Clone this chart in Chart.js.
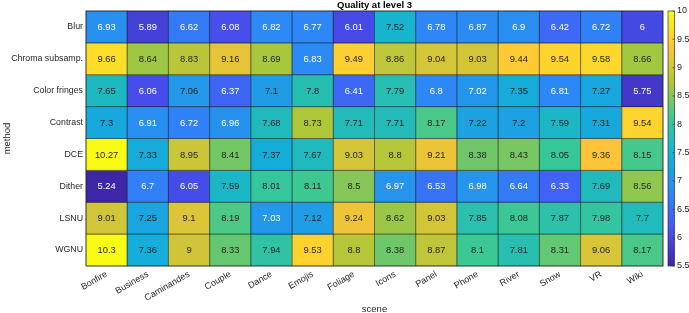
<!DOCTYPE html>
<html>
<head>
<meta charset="utf-8">
<script src="https://cdn.jsdelivr.net/npm/chart.js@4.4.1/dist/chart.umd.min.js"></script>
<style>
  body { margin: 0; background: #fff; }
  #wrap { width: 689px; height: 313px; }
</style>
</head>
<body>
<div id="wrap"><canvas id="heat"></canvas></div>
<script>
// --- data --- //
const scenes = ['Bonfire', 'Business', 'Caminandes', 'Couple', 'Dance', 'Emojis', 'Foliage',
    'Icons', 'Panel', 'Phone', 'River', 'Snow', 'VR', 'Wiki'];
const methods = ['Blur', 'Chroma subsamp.', 'Color fringes', 'Contrast', 'DCE', 'Dither', 'LSNU', 'WGNU'];

const blur = [6.93, 5.89, 6.62, 6.08, 6.82, 6.77, 6.01, 7.52, 6.78, 6.87, 6.9, 6.42, 6.72, 6];
const chroma = [9.66, 8.64, 8.83, 9.16, 8.69, 6.83, 9.49, 8.86, 9.04, 9.03, 9.44, 9.54, 9.58, 8.66];
const fringes = [7.65, 6.06, 7.06, 6.37, 7.1, 7.8, 6.41, 7.79, 6.8, 7.02, 7.35, 6.81, 7.27, 5.75];
const contrast = [7.3, 6.91, 6.72, 6.96, 7.68, 8.73, 7.71, 7.71, 8.17, 7.22, 7.2, 7.59, 7.31, 9.54];
const dce = [10.27, 7.33, 8.95, 8.41, 7.37, 7.67, 9.03, 8.8, 9.21, 8.38, 8.43, 8.05, 9.36, 8.15];
const dither = [5.24, 6.7, 6.05, 7.59, 8.01, 8.11, 8.5, 6.97, 6.53, 6.98, 6.64, 6.33, 7.69, 8.56];
const lsnu = [9.01, 7.25, 9.1, 8.19, 7.03, 7.12, 9.24, 8.62, 9.03, 7.85, 8.08, 7.87, 7.98, 7.7];
const wgnu = [10.3, 7.36, 9, 8.33, 7.94, 9.53, 8.8, 8.38, 8.87, 8.1, 7.81, 8.31, 9.06, 8.17];
const rows = [blur, chroma, fringes, contrast, dce, dither, lsnu, wgnu];

const colorMin = 5.5;
const colorMax = 10;
const colorTicks = [5.5, 6, 6.5, 7, 7.5, 8, 8.5, 9, 9.5, 10];

// parula, 8 anchor colours, linearly interpolated
const parula = [
    [0.2422, 0.1504, 0.6603], [0.2810, 0.3228, 0.9579], [0.1786, 0.5289, 0.9682],
    [0.0689, 0.6948, 0.8394], [0.2161, 0.7843, 0.5923], [0.6720, 0.7793, 0.2227],
    [0.9970, 0.7659, 0.2199], [0.9769, 0.9839, 0.0805]
];
const parulaAt = (t) => {
    t = Math.min(1, Math.max(0, t));
    const p = t * (parula.length - 1);
    const i = Math.min(parula.length - 2, Math.floor(p));
    const f = p - i;
    const c = parula[i].map((a, k) => Math.round(255 * (a + (parula[i + 1][k] - a) * f)));
    return `rgb(${c[0]},${c[1]},${c[2]})`;
};
const colorFor = (v) => parulaAt((v - colorMin) / (colorMax - colorMin));

const FONT = '"Liberation Sans", Arial, sans-serif';
const TXT = '#262626';

// scales: fixed box sizes, no extra end padding for labels
const fixBox = (w, h) => (s) => {
    if (w !== null) s.width = w;
    if (h !== null) s.height = h;
    s.paddingTop = 0; s.paddingBottom = 0; s.paddingLeft = 0; s.paddingRight = 0;
};

// --- cell labels, grid lines, frame and colour bar --- //
const heatPlugin = {
    id: 'heatExtras',
    afterDatasetsDraw(chart) {
        const ctx = chart.ctx;
        const area = chart.chartArea;
        ctx.save();
        ctx.font = `9.4px ${FONT}`;
        ctx.textAlign = 'center';
        ctx.textBaseline = 'middle';
        chart.data.datasets.forEach((ds, i) => {
            chart.getDatasetMeta(i).data.forEach((bar, j) => {
                const { x, y, base, width } = bar.getProps(['x', 'y', 'base', 'width'], true);
                const top = Math.min(y, base);
                const h = Math.abs(base - y);
                ctx.strokeStyle = 'rgba(30,30,30,0.35)';
                ctx.lineWidth = 1;
                ctx.strokeRect(x - width / 2, top, width, h);
                const v = rows[i][j];
                ctx.fillStyle = v < 7.05 ? '#ffffff' : TXT;
                ctx.fillText(String(v), x, top + h / 2 + 0.5);
            });
        });
        ctx.strokeStyle = 'rgba(38,38,38,0.7)';
        ctx.strokeRect(area.left, area.top, area.right - area.left, area.bottom - area.top);

        // colour bar
        const cb = chart.scales.cb;
        const x0 = cb.left + 5;
        const w = 6.5;
        const grad = ctx.createLinearGradient(0, cb.bottom, 0, cb.top);
        for (let s = 0; s <= 40; s++) grad.addColorStop(s / 40, parulaAt(s / 40));
        ctx.fillStyle = grad;
        ctx.fillRect(x0, cb.top, w, cb.bottom - cb.top);
        ctx.strokeStyle = 'rgba(38,38,38,0.8)';
        ctx.lineWidth = 0.8;
        ctx.strokeRect(x0, cb.top, w, cb.bottom - cb.top);
        colorTicks.forEach((t) => {
            const py = cb.getPixelForValue(t);
            ctx.beginPath();
            ctx.moveTo(x0 + w, py);
            ctx.lineTo(x0 + w - 2, py);
            ctx.stroke();
        });
        ctx.restore();
    }
};

const datasets = rows.map((vals, i) => ({
    label: methods[i],
    data: vals.map(() => [i, i + 1]),
    backgroundColor: vals.map(colorFor),
    borderWidth: 0,
    barPercentage: 1,
    categoryPercentage: 1,
    grouped: false
}));

new Chart(document.getElementById('heat'), {
    type: 'bar',
    data: { labels: scenes, datasets },
    options: {
        responsive: true,
        maintainAspectRatio: false,
        animation: false,
        layout: { padding: 0 },
        plugins: {
            legend: { display: false },
            tooltip: { enabled: false },
            title: {
                display: true,
                text: 'Quality at level 3',
                fullSize: false,
                color: '#000',
                font: { family: FONT, size: 9.5, weight: 'bold', lineHeight: 1 },
                padding: { top: 0.5, bottom: 1 }
            }
        },
        scales: {
            x: {
                grid: { display: false, drawTicks: false },
                border: { display: false },
                ticks: {
                    color: TXT, font: { family: FONT, size: 9 },
                    minRotation: 30, maxRotation: 30, padding: 3, autoSkip: false
                },
                title: {
                    display: true, text: 'scene', color: TXT,
                    font: { family: FONT, size: 9.5, lineHeight: 0.8 },
                    padding: { top: 0, bottom: 0 }
                },
                afterFit: fixBox(null, 47)
            },
            y: {
                min: 0, max: methods.length, reverse: true,
                grid: { display: false, drawTicks: false },
                border: { display: false },
                afterBuildTicks: (s) => { s.ticks = methods.map((m, i) => ({ value: i + 0.5 })); },
                ticks: {
                    color: TXT, font: { family: FONT, size: 8.8 }, padding: 3, autoSkip: false,
                    callback: (v, i) => methods[i]
                },
                title: {
                    display: true, text: 'method', color: TXT,
                    font: { family: FONT, size: 9.5, lineHeight: 1 },
                    padding: { top: 3, bottom: 0 }
                },
                afterFit: fixBox(86, null)
            },
            cb: {
                type: 'linear', position: 'right', min: colorMin, max: colorMax,
                grid: { display: false, drawTicks: false },
                border: { display: false },
                afterBuildTicks: (s) => { s.ticks = colorTicks.map((v) => ({ value: v })); },
                ticks: {
                    color: TXT, font: { family: FONT, size: 9 }, padding: 14,
                    callback: (v) => String(v)
                },
                afterFit: fixBox(26, null)
            }
        }
    },
    plugins: [heatPlugin]
});
</script>
</body>
</html>
